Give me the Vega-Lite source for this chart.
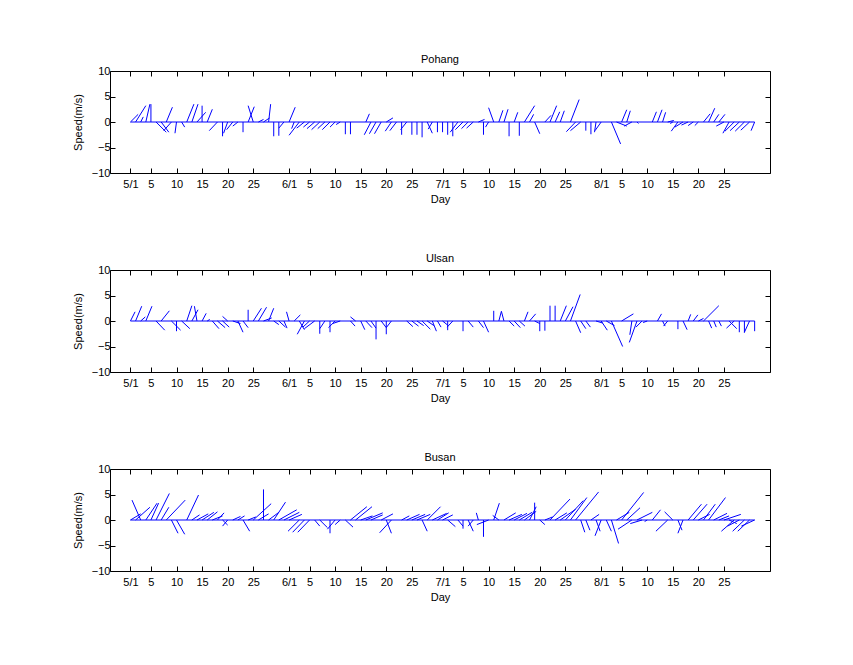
{
  "$schema": "https://vega.github.io/schema/vega-lite/v6.json",
  "background": "white",
  "padding": {"left": 71, "top": 53, "right": 5, "bottom": 5},
  "spacing": 97,
  "bounds": "flush",
  "datasets": {
    "baseline": [{"start": 1, "end": 123, "level": 0}],
    "sticks": [
      {"station":"Pohang","day":1,"endDay":2.5,"speed":1.5},
      {"station":"Pohang","day":2,"endDay":4,"speed":3.2},
      {"station":"Pohang","day":3,"endDay":3.5,"speed":1},
      {"station":"Pohang","day":4,"endDay":4.8,"speed":3.5},
      {"station":"Pohang","day":5,"endDay":5,"speed":3.5},
      {"station":"Pohang","day":6,"endDay":8,"speed":-2},
      {"station":"Pohang","day":7,"endDay":8.5,"speed":-2},
      {"station":"Pohang","day":8,"endDay":9.2,"speed":2.9},
      {"station":"Pohang","day":9,"endDay":7.5,"speed":-1.7},
      {"station":"Pohang","day":10,"endDay":9.7,"speed":-2.2},
      {"station":"Pohang","day":11,"endDay":11.6,"speed":-1},
      {"station":"Pohang","day":12,"endDay":13.4,"speed":3.5},
      {"station":"Pohang","day":13,"endDay":14.2,"speed":3.5},
      {"station":"Pohang","day":14,"endDay":15.7,"speed":1.9},
      {"station":"Pohang","day":15,"endDay":15,"speed":3.2},
      {"station":"Pohang","day":16,"endDay":17,"speed":2.5},
      {"station":"Pohang","day":18,"endDay":16.4,"speed":-1.7},
      {"station":"Pohang","day":19,"endDay":19,"speed":-2.8},
      {"station":"Pohang","day":20,"endDay":19.2,"speed":-2.2},
      {"station":"Pohang","day":21,"endDay":19.8,"speed":-1.5},
      {"station":"Pohang","day":22,"endDay":21,"speed":-0.8},
      {"station":"Pohang","day":23,"endDay":23,"speed":-2},
      {"station":"Pohang","day":24,"endDay":25.2,"speed":3},
      {"station":"Pohang","day":25,"endDay":24,"speed":3.2},
      {"station":"Pohang","day":26,"endDay":27,"speed":0.5},
      {"station":"Pohang","day":27,"endDay":28.2,"speed":0.8},
      {"station":"Pohang","day":28,"endDay":28.4,"speed":3.5},
      {"station":"Pohang","day":29,"endDay":29,"speed":-2.8},
      {"station":"Pohang","day":30,"endDay":30,"speed":-2.7},
      {"station":"Pohang","day":31,"endDay":30,"speed":-1.2},
      {"station":"Pohang","day":32,"endDay":33.2,"speed":2.9},
      {"station":"Pohang","day":33,"endDay":32.5,"speed":-1.3},
      {"station":"Pohang","day":34,"endDay":32,"speed":-2.6},
      {"station":"Pohang","day":35,"endDay":33.5,"speed":-1.2},
      {"station":"Pohang","day":36,"endDay":34.8,"speed":-1},
      {"station":"Pohang","day":37,"endDay":35.5,"speed":-1.3},
      {"station":"Pohang","day":38,"endDay":36.4,"speed":-1.5},
      {"station":"Pohang","day":39,"endDay":37.6,"speed":-1.3},
      {"station":"Pohang","day":40,"endDay":38.5,"speed":-1.5},
      {"station":"Pohang","day":41,"endDay":40,"speed":-1},
      {"station":"Pohang","day":42,"endDay":41.2,"speed":-0.5},
      {"station":"Pohang","day":43,"endDay":43,"speed":-2.4},
      {"station":"Pohang","day":44,"endDay":44,"speed":-2.4},
      {"station":"Pohang","day":47,"endDay":47.7,"speed":1.6},
      {"station":"Pohang","day":48,"endDay":46.7,"speed":-2.5},
      {"station":"Pohang","day":49,"endDay":47.7,"speed":-2.3},
      {"station":"Pohang","day":50,"endDay":48.7,"speed":-2.3},
      {"station":"Pohang","day":51,"endDay":52.3,"speed":0.8},
      {"station":"Pohang","day":52,"endDay":50.8,"speed":-1.8},
      {"station":"Pohang","day":53,"endDay":51.7,"speed":-1.7},
      {"station":"Pohang","day":54,"endDay":54,"speed":-2.5},
      {"station":"Pohang","day":55,"endDay":53.8,"speed":-1.5},
      {"station":"Pohang","day":56,"endDay":56,"speed":-2.5},
      {"station":"Pohang","day":57,"endDay":57,"speed":-2.5},
      {"station":"Pohang","day":58,"endDay":58,"speed":-3},
      {"station":"Pohang","day":59,"endDay":60,"speed":-2.2},
      {"station":"Pohang","day":60,"endDay":59.2,"speed":-1.4},
      {"station":"Pohang","day":61,"endDay":61,"speed":-2},
      {"station":"Pohang","day":62,"endDay":62,"speed":-2},
      {"station":"Pohang","day":63,"endDay":63,"speed":-2.5},
      {"station":"Pohang","day":64,"endDay":64,"speed":-2.8},
      {"station":"Pohang","day":65,"endDay":63.5,"speed":-2},
      {"station":"Pohang","day":66,"endDay":64.5,"speed":-1.5},
      {"station":"Pohang","day":67,"endDay":65.7,"speed":-1.3},
      {"station":"Pohang","day":68,"endDay":66.7,"speed":-1.2},
      {"station":"Pohang","day":69,"endDay":70.2,"speed":0.5},
      {"station":"Pohang","day":70,"endDay":70,"speed":-2.5},
      {"station":"Pohang","day":71,"endDay":70.4,"speed":-1},
      {"station":"Pohang","day":72,"endDay":71,"speed":2.8},
      {"station":"Pohang","day":73,"endDay":73.8,"speed":2.3},
      {"station":"Pohang","day":74,"endDay":74.8,"speed":2.5},
      {"station":"Pohang","day":75,"endDay":75,"speed":-2.8},
      {"station":"Pohang","day":76,"endDay":76.7,"speed":1.9},
      {"station":"Pohang","day":77,"endDay":77,"speed":-2.7},
      {"station":"Pohang","day":78,"endDay":80,"speed":3.2},
      {"station":"Pohang","day":79,"endDay":79.8,"speed":1.5},
      {"station":"Pohang","day":80,"endDay":81,"speed":-2.3},
      {"station":"Pohang","day":82,"endDay":83.2,"speed":1.3},
      {"station":"Pohang","day":83,"endDay":84.3,"speed":3.2},
      {"station":"Pohang","day":84,"endDay":84.9,"speed":2},
      {"station":"Pohang","day":85,"endDay":85.8,"speed":2.2},
      {"station":"Pohang","day":87,"endDay":88.7,"speed":4.4},
      {"station":"Pohang","day":88,"endDay":86.2,"speed":-1.9},
      {"station":"Pohang","day":89,"endDay":87,"speed":-1.7},
      {"station":"Pohang","day":90,"endDay":90,"speed":-1.7},
      {"station":"Pohang","day":91,"endDay":91,"speed":-2.4},
      {"station":"Pohang","day":92,"endDay":91.7,"speed":-2},
      {"station":"Pohang","day":93,"endDay":91.8,"speed":-1.7},
      {"station":"Pohang","day":95,"endDay":96.8,"speed":-4.3},
      {"station":"Pohang","day":96,"endDay":98,"speed":-0.8},
      {"station":"Pohang","day":97,"endDay":98,"speed":2.4},
      {"station":"Pohang","day":98,"endDay":98.7,"speed":2.2},
      {"station":"Pohang","day":99,"endDay":97.5,"speed":-0.8},
      {"station":"Pohang","day":100,"endDay":100.3,"speed":-0.3},
      {"station":"Pohang","day":103,"endDay":103.8,"speed":2},
      {"station":"Pohang","day":104,"endDay":104.9,"speed":2.4},
      {"station":"Pohang","day":105,"endDay":105.6,"speed":1.9},
      {"station":"Pohang","day":106,"endDay":107.2,"speed":0.3},
      {"station":"Pohang","day":107,"endDay":106.5,"speed":-0.3},
      {"station":"Pohang","day":108,"endDay":106.7,"speed":-1.8},
      {"station":"Pohang","day":109,"endDay":107.4,"speed":-1},
      {"station":"Pohang","day":110,"endDay":108.7,"speed":-0.6},
      {"station":"Pohang","day":111,"endDay":110,"speed":-0.7},
      {"station":"Pohang","day":112,"endDay":111.3,"speed":-0.7},
      {"station":"Pohang","day":113,"endDay":114.3,"speed":1.6},
      {"station":"Pohang","day":114,"endDay":115.2,"speed":2.7},
      {"station":"Pohang","day":115,"endDay":116,"speed":1.5},
      {"station":"Pohang","day":116,"endDay":117.2,"speed":1.5},
      {"station":"Pohang","day":117,"endDay":115.5,"speed":-0.8},
      {"station":"Pohang","day":118,"endDay":116.8,"speed":-2.2},
      {"station":"Pohang","day":119,"endDay":117.2,"speed":-1.8},
      {"station":"Pohang","day":120,"endDay":118.2,"speed":-1.7},
      {"station":"Pohang","day":121,"endDay":119.2,"speed":-1.8},
      {"station":"Pohang","day":122,"endDay":120.3,"speed":-1.6},
      {"station":"Pohang","day":123,"endDay":122.3,"speed":-1.7},

      {"station":"Ulsan","day":1,"endDay":1.9,"speed":1.8},
      {"station":"Ulsan","day":2,"endDay":3.2,"speed":2.9},
      {"station":"Ulsan","day":3,"endDay":3.9,"speed":0.8},
      {"station":"Ulsan","day":4,"endDay":5.2,"speed":2.9},
      {"station":"Ulsan","day":6,"endDay":7.7,"speed":-1.8},
      {"station":"Ulsan","day":7,"endDay":8.6,"speed":2},
      {"station":"Ulsan","day":9,"endDay":10.8,"speed":-1.8},
      {"station":"Ulsan","day":10,"endDay":10,"speed":-2},
      {"station":"Ulsan","day":11,"endDay":12.6,"speed":-1.5},
      {"station":"Ulsan","day":12,"endDay":13,"speed":3},
      {"station":"Ulsan","day":13,"endDay":14.2,"speed":2.2},
      {"station":"Ulsan","day":14,"endDay":13.5,"speed":2.9},
      {"station":"Ulsan","day":15,"endDay":15.8,"speed":1.5},
      {"station":"Ulsan","day":16,"endDay":16.5,"speed":0.3},
      {"station":"Ulsan","day":17,"endDay":18.3,"speed":-1.5},
      {"station":"Ulsan","day":18,"endDay":19.5,"speed":-1.3},
      {"station":"Ulsan","day":19,"endDay":20.3,"speed":-1.2},
      {"station":"Ulsan","day":20,"endDay":19,"speed":0.9},
      {"station":"Ulsan","day":21,"endDay":22.5,"speed":-0.5},
      {"station":"Ulsan","day":22,"endDay":23,"speed":-2.2},
      {"station":"Ulsan","day":23,"endDay":24,"speed":-1.3},
      {"station":"Ulsan","day":24,"endDay":24,"speed":2.2},
      {"station":"Ulsan","day":25,"endDay":26.6,"speed":2.5},
      {"station":"Ulsan","day":26,"endDay":27.6,"speed":2.7},
      {"station":"Ulsan","day":27,"endDay":28.6,"speed":0.6},
      {"station":"Ulsan","day":28,"endDay":29,"speed":2.5},
      {"station":"Ulsan","day":29,"endDay":30,"speed":-0.7},
      {"station":"Ulsan","day":30,"endDay":31.3,"speed":-1.2},
      {"station":"Ulsan","day":31,"endDay":31.6,"speed":-1.4},
      {"station":"Ulsan","day":32,"endDay":31.5,"speed":1.8},
      {"station":"Ulsan","day":33,"endDay":34.2,"speed":1.2},
      {"station":"Ulsan","day":34,"endDay":35,"speed":-1.7},
      {"station":"Ulsan","day":35,"endDay":33.6,"speed":-2.6},
      {"station":"Ulsan","day":36,"endDay":34.7,"speed":-1.2},
      {"station":"Ulsan","day":37,"endDay":35,"speed":-1.5},
      {"station":"Ulsan","day":38,"endDay":38,"speed":-2.5},
      {"station":"Ulsan","day":39,"endDay":38,"speed":-1.5},
      {"station":"Ulsan","day":40,"endDay":40,"speed":-2.2},
      {"station":"Ulsan","day":41,"endDay":39.7,"speed":-1.3},
      {"station":"Ulsan","day":42,"endDay":40.5,"speed":-0.5},
      {"station":"Ulsan","day":44,"endDay":44.9,"speed":-1},
      {"station":"Ulsan","day":45,"endDay":44,"speed":0.8},
      {"station":"Ulsan","day":46,"endDay":46.8,"speed":-1.7},
      {"station":"Ulsan","day":47,"endDay":48.2,"speed":-1.3},
      {"station":"Ulsan","day":48,"endDay":49,"speed":-1.4},
      {"station":"Ulsan","day":49,"endDay":49,"speed":-3.6},
      {"station":"Ulsan","day":50,"endDay":51,"speed":-1.3},
      {"station":"Ulsan","day":51,"endDay":51,"speed":-2.6},
      {"station":"Ulsan","day":52,"endDay":51,"speed":-1.3},
      {"station":"Ulsan","day":55,"endDay":56.2,"speed":-1.1},
      {"station":"Ulsan","day":56,"endDay":57.3,"speed":-1},
      {"station":"Ulsan","day":57,"endDay":58.3,"speed":-0.9},
      {"station":"Ulsan","day":58,"endDay":59.6,"speed":-1.6},
      {"station":"Ulsan","day":59,"endDay":60.3,"speed":-0.9},
      {"station":"Ulsan","day":60,"endDay":60.8,"speed":-2},
      {"station":"Ulsan","day":61,"endDay":61.7,"speed":-1.2},
      {"station":"Ulsan","day":62,"endDay":63,"speed":-0.8},
      {"station":"Ulsan","day":63,"endDay":63,"speed":-1.8},
      {"station":"Ulsan","day":64,"endDay":62.9,"speed":-1.2},
      {"station":"Ulsan","day":66,"endDay":66,"speed":-2},
      {"station":"Ulsan","day":67,"endDay":68,"speed":-1.2},
      {"station":"Ulsan","day":69,"endDay":70,"speed":-1.3},
      {"station":"Ulsan","day":70,"endDay":71,"speed":-2.2},
      {"station":"Ulsan","day":72,"endDay":72,"speed":2},
      {"station":"Ulsan","day":73,"endDay":73.5,"speed":1.9},
      {"station":"Ulsan","day":74,"endDay":73.5,"speed":1.9},
      {"station":"Ulsan","day":75,"endDay":76,"speed":-1},
      {"station":"Ulsan","day":76,"endDay":77.2,"speed":-1.3},
      {"station":"Ulsan","day":77,"endDay":78.1,"speed":-1},
      {"station":"Ulsan","day":78,"endDay":78.7,"speed":1.8},
      {"station":"Ulsan","day":79,"endDay":80.2,"speed":1.4},
      {"station":"Ulsan","day":80,"endDay":81,"speed":-0.5},
      {"station":"Ulsan","day":81,"endDay":81,"speed":-2},
      {"station":"Ulsan","day":82,"endDay":82,"speed":-1.9},
      {"station":"Ulsan","day":83,"endDay":83,"speed":3},
      {"station":"Ulsan","day":84,"endDay":84,"speed":3},
      {"station":"Ulsan","day":85,"endDay":86.2,"speed":3},
      {"station":"Ulsan","day":86,"endDay":87.5,"speed":2.8},
      {"station":"Ulsan","day":87,"endDay":88.9,"speed":5.2},
      {"station":"Ulsan","day":88,"endDay":89,"speed":-2.3},
      {"station":"Ulsan","day":89,"endDay":90,"speed":-1.5},
      {"station":"Ulsan","day":90,"endDay":90.9,"speed":-1.2},
      {"station":"Ulsan","day":92,"endDay":93.3,"speed":-0.4},
      {"station":"Ulsan","day":93,"endDay":94.2,"speed":-1.8},
      {"station":"Ulsan","day":94,"endDay":95.6,"speed":-0.9},
      {"station":"Ulsan","day":95,"endDay":97.2,"speed":-5},
      {"station":"Ulsan","day":97,"endDay":99.3,"speed":1.4},
      {"station":"Ulsan","day":99,"endDay":98.6,"speed":-2.7},
      {"station":"Ulsan","day":100,"endDay":98.5,"speed":-4.2},
      {"station":"Ulsan","day":101,"endDay":99.8,"speed":-1.2},
      {"station":"Ulsan","day":102,"endDay":101.2,"speed":-0.3},
      {"station":"Ulsan","day":104,"endDay":104.8,"speed":1.4},
      {"station":"Ulsan","day":105,"endDay":105.5,"speed":-1},
      {"station":"Ulsan","day":106,"endDay":105.2,"speed":-1},
      {"station":"Ulsan","day":108,"endDay":108,"speed":-1.6},
      {"station":"Ulsan","day":109,"endDay":109.8,"speed":-1.7},
      {"station":"Ulsan","day":110,"endDay":110.5,"speed":1.3},
      {"station":"Ulsan","day":111,"endDay":111.9,"speed":1.2},
      {"station":"Ulsan","day":112,"endDay":113,"speed":0.5},
      {"station":"Ulsan","day":113,"endDay":116,"speed":3},
      {"station":"Ulsan","day":114,"endDay":114.6,"speed":-1.4},
      {"station":"Ulsan","day":115,"endDay":115.5,"speed":-1.2},
      {"station":"Ulsan","day":116,"endDay":116.5,"speed":-1},
      {"station":"Ulsan","day":118,"endDay":119.5,"speed":-1.5},
      {"station":"Ulsan","day":119,"endDay":117.5,"speed":-1.4},
      {"station":"Ulsan","day":120,"endDay":120,"speed":-2.2},
      {"station":"Ulsan","day":121,"endDay":121,"speed":-2.3},
      {"station":"Ulsan","day":122,"endDay":121,"speed":-2.2},
      {"station":"Ulsan","day":123,"endDay":123,"speed":-2},

      {"station":"Busan","day":1,"endDay":3,"speed":1.2},
      {"station":"Busan","day":2,"endDay":4.8,"speed":2.5},
      {"station":"Busan","day":3,"endDay":1.3,"speed":3.9},
      {"station":"Busan","day":4,"endDay":6.2,"speed":3.3},
      {"station":"Busan","day":5,"endDay":6.5,"speed":3.3},
      {"station":"Busan","day":6,"endDay":8.6,"speed":5.2},
      {"station":"Busan","day":7,"endDay":8.5,"speed":2.5},
      {"station":"Busan","day":8,"endDay":11.7,"speed":3.9},
      {"station":"Busan","day":9,"endDay":10.3,"speed":-2.6},
      {"station":"Busan","day":10,"endDay":11.6,"speed":-2.8},
      {"station":"Busan","day":12,"endDay":14.3,"speed":4.9},
      {"station":"Busan","day":13,"endDay":14.5,"speed":1},
      {"station":"Busan","day":14,"endDay":16.2,"speed":1.2},
      {"station":"Busan","day":15,"endDay":17.3,"speed":1.5},
      {"station":"Busan","day":16,"endDay":18,"speed":1.6},
      {"station":"Busan","day":17,"endDay":19,"speed":0.8},
      {"station":"Busan","day":18,"endDay":19.3,"speed":1.4},
      {"station":"Busan","day":19,"endDay":20,"speed":-1},
      {"station":"Busan","day":20,"endDay":19,"speed":-1.2},
      {"station":"Busan","day":21,"endDay":22.5,"speed":0.7},
      {"station":"Busan","day":22,"endDay":23.3,"speed":0.8},
      {"station":"Busan","day":23,"endDay":24.3,"speed":-2.2},
      {"station":"Busan","day":24,"endDay":25.5,"speed":0.6},
      {"station":"Busan","day":25,"endDay":28.5,"speed":3.2},
      {"station":"Busan","day":26,"endDay":28,"speed":1.2},
      {"station":"Busan","day":27,"endDay":27,"speed":6},
      {"station":"Busan","day":28,"endDay":30,"speed":1.5},
      {"station":"Busan","day":29,"endDay":31.3,"speed":3.5},
      {"station":"Busan","day":30,"endDay":33.5,"speed":2},
      {"station":"Busan","day":31,"endDay":34,"speed":1.5},
      {"station":"Busan","day":32,"endDay":34.5,"speed":1.1},
      {"station":"Busan","day":34,"endDay":31.8,"speed":-2.2},
      {"station":"Busan","day":35,"endDay":32.7,"speed":-2.4},
      {"station":"Busan","day":36,"endDay":33.7,"speed":-2.4},
      {"station":"Busan","day":37,"endDay":38,"speed":-1.2},
      {"station":"Busan","day":38,"endDay":39.5,"speed":-1.5},
      {"station":"Busan","day":40,"endDay":40,"speed":-2.6},
      {"station":"Busan","day":41,"endDay":39.5,"speed":-1.8},
      {"station":"Busan","day":42,"endDay":41,"speed":-0.9},
      {"station":"Busan","day":43,"endDay":44.5,"speed":-1.4},
      {"station":"Busan","day":44,"endDay":47.2,"speed":2.6},
      {"station":"Busan","day":45,"endDay":48.2,"speed":2.6},
      {"station":"Busan","day":46,"endDay":48.3,"speed":0.8},
      {"station":"Busan","day":47,"endDay":50.3,"speed":1.4},
      {"station":"Busan","day":48,"endDay":50.3,"speed":1},
      {"station":"Busan","day":50,"endDay":52.3,"speed":1.2},
      {"station":"Busan","day":51,"endDay":52,"speed":-2.6},
      {"station":"Busan","day":52,"endDay":49.7,"speed":-2.5},
      {"station":"Busan","day":54,"endDay":55.5,"speed":0.8},
      {"station":"Busan","day":55,"endDay":57.5,"speed":1.1},
      {"station":"Busan","day":56,"endDay":58.6,"speed":1.1},
      {"station":"Busan","day":57,"endDay":59.6,"speed":1.1},
      {"station":"Busan","day":58,"endDay":59,"speed":-2.2},
      {"station":"Busan","day":59,"endDay":61.6,"speed":2.6},
      {"station":"Busan","day":60,"endDay":62.8,"speed":1.3},
      {"station":"Busan","day":61,"endDay":63.2,"speed":1.4},
      {"station":"Busan","day":62,"endDay":64,"speed":1},
      {"station":"Busan","day":63,"endDay":64.5,"speed":-1.3},
      {"station":"Busan","day":65,"endDay":66,"speed":-1.2},
      {"station":"Busan","day":66,"endDay":66,"speed":-1.7},
      {"station":"Busan","day":67,"endDay":68,"speed":-2.2},
      {"station":"Busan","day":68,"endDay":67,"speed":-1.2},
      {"station":"Busan","day":69,"endDay":68.6,"speed":1.4},
      {"station":"Busan","day":70,"endDay":70,"speed":-3.3},
      {"station":"Busan","day":71,"endDay":68.7,"speed":-0.9},
      {"station":"Busan","day":72,"endDay":73.1,"speed":3.3},
      {"station":"Busan","day":73,"endDay":71.8,"speed":0.9},
      {"station":"Busan","day":74,"endDay":76.3,"speed":1.4},
      {"station":"Busan","day":75,"endDay":77.5,"speed":1.1},
      {"station":"Busan","day":76,"endDay":78.5,"speed":1.3},
      {"station":"Busan","day":77,"endDay":79.5,"speed":1.5},
      {"station":"Busan","day":78,"endDay":80.3,"speed":1.7},
      {"station":"Busan","day":79,"endDay":80.3,"speed":2.6},
      {"station":"Busan","day":80,"endDay":80,"speed":3.4},
      {"station":"Busan","day":81,"endDay":82,"speed":-0.9},
      {"station":"Busan","day":82,"endDay":83.5,"speed":0.6},
      {"station":"Busan","day":83,"endDay":86.9,"speed":4.1},
      {"station":"Busan","day":84,"endDay":86.3,"speed":1.4},
      {"station":"Busan","day":85,"endDay":88,"speed":2.1},
      {"station":"Busan","day":86,"endDay":89.5,"speed":3.8},
      {"station":"Busan","day":87,"endDay":90.2,"speed":4.4},
      {"station":"Busan","day":88,"endDay":92.5,"speed":5.5},
      {"station":"Busan","day":89,"endDay":89.8,"speed":-2.4},
      {"station":"Busan","day":90,"endDay":90.8,"speed":-2},
      {"station":"Busan","day":91,"endDay":92.6,"speed":1.1},
      {"station":"Busan","day":92,"endDay":92.8,"speed":-2.2},
      {"station":"Busan","day":93,"endDay":91.8,"speed":-3.1},
      {"station":"Busan","day":94,"endDay":95,"speed":-2.2},
      {"station":"Busan","day":95,"endDay":96.4,"speed":-4.6},
      {"station":"Busan","day":96,"endDay":98.5,"speed":1.5},
      {"station":"Busan","day":97,"endDay":101.3,"speed":5.4},
      {"station":"Busan","day":98,"endDay":100.6,"speed":2.4},
      {"station":"Busan","day":99,"endDay":96.3,"speed":-1.8},
      {"station":"Busan","day":100,"endDay":103,"speed":1.5},
      {"station":"Busan","day":101,"endDay":98.7,"speed":-0.7},
      {"station":"Busan","day":102,"endDay":101.5,"speed":-0.3},
      {"station":"Busan","day":103,"endDay":104.6,"speed":2},
      {"station":"Busan","day":106,"endDay":103.7,"speed":-2.2},
      {"station":"Busan","day":107,"endDay":105.4,"speed":1.6},
      {"station":"Busan","day":108,"endDay":108.8,"speed":-2},
      {"station":"Busan","day":109,"endDay":108,"speed":-2.6},
      {"station":"Busan","day":110,"endDay":112.6,"speed":3.1},
      {"station":"Busan","day":111,"endDay":113.7,"speed":3.1},
      {"station":"Busan","day":112,"endDay":114.2,"speed":1.1},
      {"station":"Busan","day":113,"endDay":115.3,"speed":3.1},
      {"station":"Busan","day":114,"endDay":117.3,"speed":4.4},
      {"station":"Busan","day":115,"endDay":117.6,"speed":1.3},
      {"station":"Busan","day":116,"endDay":118,"speed":0.8},
      {"station":"Busan","day":117,"endDay":120.3,"speed":1.1},
      {"station":"Busan","day":118,"endDay":119.5,"speed":-0.7},
      {"station":"Busan","day":119,"endDay":116.5,"speed":-2.2},
      {"station":"Busan","day":120,"endDay":117.7,"speed":-1.2},
      {"station":"Busan","day":121,"endDay":118.7,"speed":-2.2},
      {"station":"Busan","day":122,"endDay":119.7,"speed":-2.2},
      {"station":"Busan","day":123,"endDay":120.4,"speed":-1.2}
    ]
  },
  "vconcat": [
    {
      "title": {"text": "Pohang", "offset": 0},
      "width": 660, "height": 102,
      "layer": [
        {
          "data": {"name": "sticks"},
          "transform": [{"filter": "datum.station === 'Pohang'"}],
          "mark": {"type": "rule", "color": "#0000ff", "strokeWidth": 1},
          "encoding": {
            "x": {"field": "endDay", "type": "quantitative", "scale": {"domain": [-3, 126], "nice": false, "zero": false},
                  "axis": {"orient": "bottom", "title": "Day", "values": [1,5,10,15,20,25,32,36,41,46,51,56,62,66,71,76,81,86,93,97,102,107,112,117],
                           "labelExpr": "datum.value==1?'5/1':datum.value==32?'6/1':datum.value==62?'7/1':datum.value==93?'8/1':datum.value>92?''+(datum.value-92):datum.value>61?''+(datum.value-61):datum.value>31?''+(datum.value-31):''+datum.value"}},
            "x2": {"field": "day"},
            "y": {"field": "speed", "type": "quantitative", "scale": {"domain": [-10, 10], "nice": false, "zero": false},
                  "axis": {"orient": "left", "title": "Speed(m/s)", "values": [-10, -5, 0, 5, 10]}},
            "y2": {"datum": 0}
          }
        },
        {
          "data": {"name": "baseline"},
          "mark": {"type": "rule", "color": "#0000ff", "strokeWidth": 1},
          "encoding": {
            "x": {"field": "start", "type": "quantitative", "axis": {"orient": "top", "labels": false, "title": null, "minExtent": 0, "maxExtent": 0, "values": [1,5,10,15,20,25,32,36,41,46,51,56,62,66,71,76,81,86,93,97,102,107,112,117]}},
            "x2": {"field": "end"},
            "y": {"field": "level", "type": "quantitative", "axis": {"orient": "right", "labels": false, "title": null, "minExtent": 0, "maxExtent": 0, "values": [-10, -5, 0, 5, 10]}}
          }
        }
      ],
      "resolve": {"axis": {"x": "independent", "y": "independent"}}
    },
    {
      "title": {"text": "Ulsan", "offset": 0},
      "width": 660, "height": 102,
      "layer": [
        {
          "data": {"name": "sticks"},
          "transform": [{"filter": "datum.station === 'Ulsan'"}],
          "mark": {"type": "rule", "color": "#0000ff", "strokeWidth": 1},
          "encoding": {
            "x": {"field": "endDay", "type": "quantitative", "scale": {"domain": [-3, 126], "nice": false, "zero": false},
                  "axis": {"orient": "bottom", "title": "Day", "values": [1,5,10,15,20,25,32,36,41,46,51,56,62,66,71,76,81,86,93,97,102,107,112,117],
                           "labelExpr": "datum.value==1?'5/1':datum.value==32?'6/1':datum.value==62?'7/1':datum.value==93?'8/1':datum.value>92?''+(datum.value-92):datum.value>61?''+(datum.value-61):datum.value>31?''+(datum.value-31):''+datum.value"}},
            "x2": {"field": "day"},
            "y": {"field": "speed", "type": "quantitative", "scale": {"domain": [-10, 10], "nice": false, "zero": false},
                  "axis": {"orient": "left", "title": "Speed(m/s)", "values": [-10, -5, 0, 5, 10]}},
            "y2": {"datum": 0}
          }
        },
        {
          "data": {"name": "baseline"},
          "mark": {"type": "rule", "color": "#0000ff", "strokeWidth": 1},
          "encoding": {
            "x": {"field": "start", "type": "quantitative", "axis": {"orient": "top", "labels": false, "title": null, "minExtent": 0, "maxExtent": 0, "values": [1,5,10,15,20,25,32,36,41,46,51,56,62,66,71,76,81,86,93,97,102,107,112,117]}},
            "x2": {"field": "end"},
            "y": {"field": "level", "type": "quantitative", "axis": {"orient": "right", "labels": false, "title": null, "minExtent": 0, "maxExtent": 0, "values": [-10, -5, 0, 5, 10]}}
          }
        }
      ],
      "resolve": {"axis": {"x": "independent", "y": "independent"}}
    },
    {
      "title": {"text": "Busan", "offset": 0},
      "width": 660, "height": 102,
      "layer": [
        {
          "data": {"name": "sticks"},
          "transform": [{"filter": "datum.station === 'Busan'"}],
          "mark": {"type": "rule", "color": "#0000ff", "strokeWidth": 1},
          "encoding": {
            "x": {"field": "endDay", "type": "quantitative", "scale": {"domain": [-3, 126], "nice": false, "zero": false},
                  "axis": {"orient": "bottom", "title": "Day", "values": [1,5,10,15,20,25,32,36,41,46,51,56,62,66,71,76,81,86,93,97,102,107,112,117],
                           "labelExpr": "datum.value==1?'5/1':datum.value==32?'6/1':datum.value==62?'7/1':datum.value==93?'8/1':datum.value>92?''+(datum.value-92):datum.value>61?''+(datum.value-61):datum.value>31?''+(datum.value-31):''+datum.value"}},
            "x2": {"field": "day"},
            "y": {"field": "speed", "type": "quantitative", "scale": {"domain": [-10, 10], "nice": false, "zero": false},
                  "axis": {"orient": "left", "title": "Speed(m/s)", "values": [-10, -5, 0, 5, 10]}},
            "y2": {"datum": 0}
          }
        },
        {
          "data": {"name": "baseline"},
          "mark": {"type": "rule", "color": "#0000ff", "strokeWidth": 1},
          "encoding": {
            "x": {"field": "start", "type": "quantitative", "axis": {"orient": "top", "labels": false, "title": null, "minExtent": 0, "maxExtent": 0, "values": [1,5,10,15,20,25,32,36,41,46,51,56,62,66,71,76,81,86,93,97,102,107,112,117]}},
            "x2": {"field": "end"},
            "y": {"field": "level", "type": "quantitative", "axis": {"orient": "right", "labels": false, "title": null, "minExtent": 0, "maxExtent": 0, "values": [-10, -5, 0, 5, 10]}}
          }
        }
      ],
      "resolve": {"axis": {"x": "independent", "y": "independent"}}
    }
  ],
  "config": {
    "font": "Liberation Sans",
    "view": {"stroke": "black", "strokeWidth": 1},
    "axis": {
      "domain": false,
      "grid": false,
      "ticks": true,
      "tickColor": "black",
      "tickSize": -5,
      "tickWidth": 1,
      "labelColor": "black",
      "labelFont": "Liberation Sans",
      "labelFontSize": 11,
      "labelFlush": false,
      "labelOverlap": false,
      "titleColor": "black",
      "titleFont": "Liberation Sans",
      "titleFontSize": 11,
      "titleFontWeight": "normal"
    },
    "axisX": {"labelPadding": 10, "titlePadding": 4},
    "axisY": {"labelPadding": 5, "titlePadding": 8},
    "title": {"font": "Liberation Sans", "fontSize": 11, "fontWeight": "normal", "color": "black", "anchor": "middle", "offset": 0}
  }
}
